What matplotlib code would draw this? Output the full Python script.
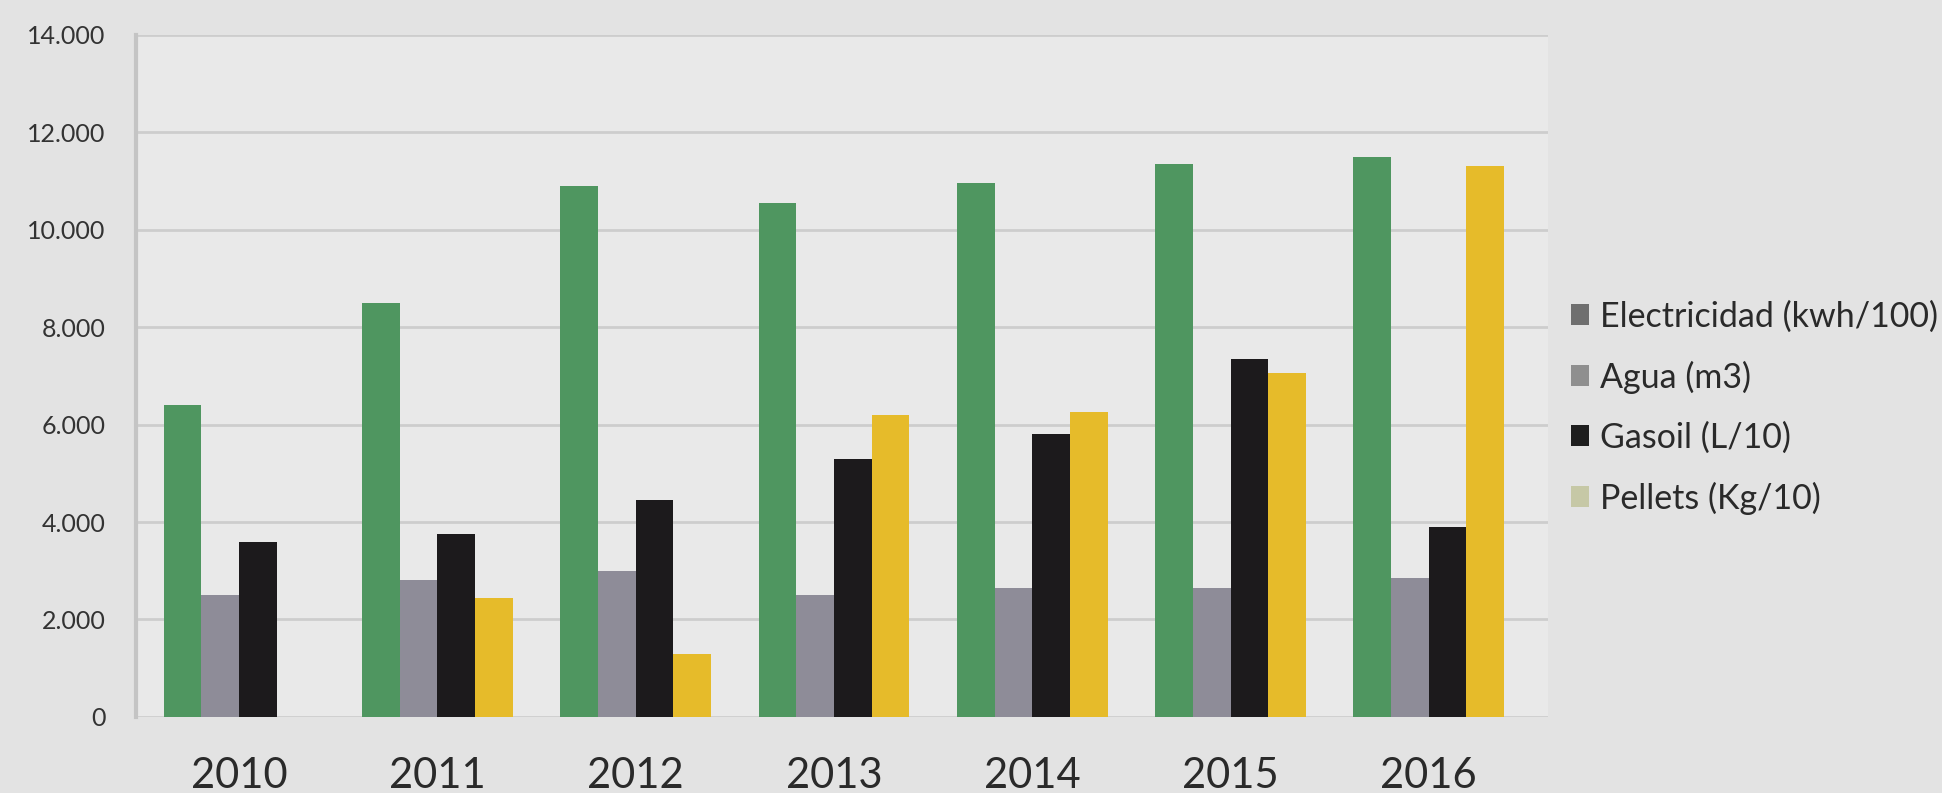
import matplotlib.pyplot as plt
import numpy as np
from matplotlib.patches import Patch
from matplotlib.ticker import FuncFormatter

years = ['2010', '2011', '2012', '2013', '2014', '2015', '2016']
electricidad = [6400, 8500, 10900, 10550, 10950, 11350, 11500]
agua = [2500, 2800, 3000, 2500, 2650, 2650, 2850]
gasoil = [3600, 3750, 4450, 5300, 5800, 7350, 3900]
pellets = [0, 2450, 1300, 6200, 6250, 7050, 11300]
series_names = ['Electricidad (kwh/100)', 'Agua (m3)', 'Gasoil (L/10)', 'Pellets (Kg/10)']

plt.rcParams['font.family'] = ['Lato', 'DejaVu Sans']

fig = plt.figure(figsize=(19.42, 7.93), dpi=100)
fig.patch.set_facecolor('#e3e3e3')
ax = fig.add_axes([0.070, 0.096, 0.727, 0.860])
ax.set_facecolor('#e9e9e9')

x = np.arange(len(years))
w = 0.19
colors = ['#4f9660', '#8e8c98', '#1c1a1c', '#e6bb2a']
for i, (vals, c) in enumerate(zip([electricidad, agua, gasoil, pellets], colors)):
    ax.bar(x + (i - 1.5) * w, vals, width=w, color=c, zorder=3)

ax.set_ylim(0, 14000)
ax.set_xlim(-0.52, 6.6)
ax.set_yticks(range(0, 14001, 2000))
ax.yaxis.set_major_formatter(FuncFormatter(lambda v, p: f'{int(v):,}'.replace(',', '.')))
ax.set_xticks(x)
ax.set_xticklabels(years)
ax.grid(axis='y', color='#cdcdcd', linewidth=2, zorder=0)
ax.tick_params(axis='y', length=0, pad=22, labelsize=18, labelcolor='#333333')
ax.tick_params(axis='x', length=0, pad=29, labelsize=30, labelcolor='#2a2a2a')
for s in ['top', 'right', 'bottom']:
    ax.spines[s].set_visible(False)
ax.spines['left'].set_color('#c4c4c4')
ax.spines['left'].set_linewidth(3)

handles = [Patch(facecolor=c) for c in ['#6f6f6f', '#8f8f8f', '#1e1e1e', '#c6c8a6']]
fig.legend(handles, series_names, loc='upper left', bbox_to_anchor=(0.793, 0.66),
           frameon=False, fontsize=24.5, handlelength=0.55, handleheight=0.55,
           handletextpad=0.3, labelspacing=0.82, labelcolor='#2a2a2a')

fig.savefig('out.png', dpi=100, facecolor=fig.get_facecolor())
